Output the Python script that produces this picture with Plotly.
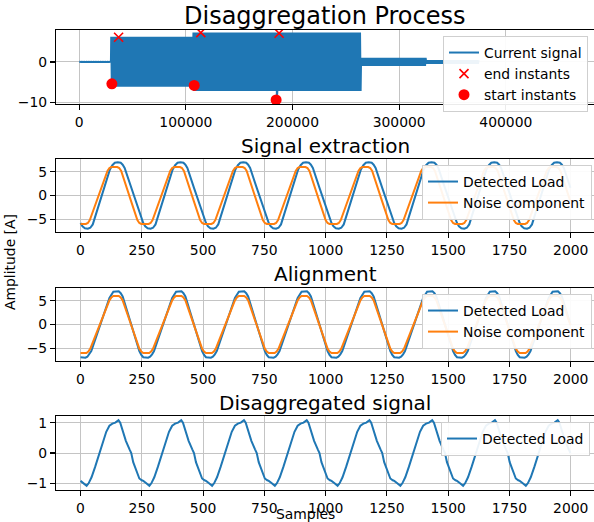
import plotly.graph_objects as go

# ---------------- data ----------------
# Top panel: envelope of the aggregated current signal, per segment
seg_start = [0, 30000, 107100, 264300, 325000]
seg_end = [30000, 107100, 264300, 325000, 375000]
seg_upper = [0.03, 6.25, 7.25, 1.0, 0.45]
seg_lower = [-0.03, -6.15, -7.2, -1.0, -0.45]
spike_x = 185300
spike_y = -9.4

end_x = [36900, 114000, 187400]
end_y = [6.1, 7.25, 7.1]
start_x = [30600, 107800, 184600]
start_y = [-5.4, -5.8, -9.4]

top_xticks = [0, 100000, 200000, 300000, 400000]
top_yticks = [-10, 0]

# Lower panels: waveform vertices, one cycle (offset within cycle, value)
cycle_starts = [0, 256, 512, 768, 1024, 1280, 1536, 1792]
n_samples_end = 1999

ext_load_dx = [0, 8, 18, 30, 40, 50, 120, 130, 140, 152, 164, 172, 180, 207, 248]
ext_load_y = [-5.8, -6.5, -6.9, -7.0, -6.8, -6.1, 5.5, 6.4, 6.9, 7.0, 6.9, 6.5, 5.8, 1.6, -4.6]
ext_noise_dx = [0, 22, 30, 38, 110, 118, 126, 150, 158, 166, 207, 232, 240, 248]
ext_noise_y = [-6.0, -6.0, -5.8, -5.2, 5.2, 5.8, 6.0, 6.0, 5.8, 5.2, -1.3, -5.2, -5.8, -6.0]

ali_load_dx = [0, 20, 28, 36, 44, 118, 126, 134, 156, 164, 172, 207, 240, 248]
ali_load_y = [-6.9, -7.0, -6.8, -6.3, -5.6, 5.6, 6.4, 6.9, 7.0, 6.6, 5.9, 0.0, -5.6, -6.4]
ali_noise_dx = [0, 24, 32, 40, 118, 126, 134, 156, 164, 172, 207, 240, 248, 254]
ali_noise_y = [-6.0, -6.0, -5.7, -5.1, 5.1, 5.7, 6.0, 6.0, 5.7, 5.1, -0.15, -5.1, -5.7, -6.0]

dis_load_dx = [0, 10, 25, 33, 45, 60, 75, 90, 105, 118, 130, 142, 155, 162, 172, 185, 200, 207, 215, 228, 240, 250]
dis_load_y = [-0.92, -0.98, -1.08, -1.0, -0.8, -0.45, -0.05, 0.35, 0.7, 0.9, 0.97, 1.0, 1.08, 1.0, 0.75, 0.4, 0.12, 0.0, -0.3, -0.62, -0.84, -0.9]

low_xticks = [0, 250, 500, 750, 1000, 1250, 1500, 1750, 2000]
amp_yticks = [-5, 0, 5]
dis_yticks = [-1, 0, 1]

BLUE = "#1f77b4"
ORANGE = "#ff7f0e"
FONT = "DejaVu Sans"


# ---------------- helpers ----------------
def envelope_line(starts, ends, up, lo, sx, sy, step=550):
    xs, ys = [], []
    spike_done = False
    for s, e, u, l in zip(starts, ends, up, lo):
        x = s
        k = 0
        while x <= e:
            if not spike_done and x >= sx:
                xs.append(sx)
                ys.append(sy)
                spike_done = True
            xs.append(x)
            ys.append(u if k % 2 == 0 else l)
            x += step
            k += 1
    return xs, ys


def cycles(dx, yv):
    xs, ys = [], []
    for c in cycle_starts:
        for d, v in zip(dx, yv):
            if c + d <= n_samples_end:
                xs.append(c + d)
                ys.append(v)
    return xs, ys


fig = go.Figure()

# ---- panel 1 ----
sx, sy = envelope_line(seg_start, seg_end, seg_upper, seg_lower, spike_x, spike_y)
fig.add_trace(go.Scatter(x=sx, y=sy, mode="lines", line=dict(color=BLUE, width=2),
                         name="Current signal", xaxis="x", yaxis="y", legend="legend"))
fig.add_trace(go.Scatter(x=end_x, y=end_y, mode="markers", name="end instants",
                         marker=dict(symbol="x-thin", size=9, color="red",
                                     line=dict(color="red", width=1.6)),
                         xaxis="x", yaxis="y", legend="legend"))
fig.add_trace(go.Scatter(x=start_x, y=start_y, mode="markers", name="start instants",
                         marker=dict(symbol="circle", size=11, color="red"),
                         xaxis="x", yaxis="y", legend="legend"))

# ---- panel 2 ----
x, y = cycles(ext_load_dx, ext_load_y)
fig.add_trace(go.Scatter(x=x, y=y, mode="lines", line=dict(color=BLUE, width=2),
                         name="Detected Load", xaxis="x2", yaxis="y2", legend="legend2"))
x, y = cycles(ext_noise_dx, ext_noise_y)
fig.add_trace(go.Scatter(x=x, y=y, mode="lines", line=dict(color=ORANGE, width=2),
                         name="Noise component", xaxis="x2", yaxis="y2", legend="legend2"))

# ---- panel 3 ----
x, y = cycles(ali_load_dx, ali_load_y)
fig.add_trace(go.Scatter(x=x, y=y, mode="lines", line=dict(color=BLUE, width=2),
                         name="Detected Load", xaxis="x3", yaxis="y3", legend="legend3"))
x, y = cycles(ali_noise_dx, ali_noise_y)
fig.add_trace(go.Scatter(x=x, y=y, mode="lines", line=dict(color=ORANGE, width=2),
                         name="Noise component", xaxis="x3", yaxis="y3", legend="legend3"))

# ---- panel 4 ----
x, y = cycles(dis_load_dx, dis_load_y)
fig.add_trace(go.Scatter(x=x, y=y, mode="lines", line=dict(color=BLUE, width=2),
                         name="Detected Load", xaxis="x4", yaxis="y4", legend="legend4"))

# ---------------- layout ----------------
W, H = 594, 522
ML, MR, MT, MB = 56, 0, 30, 32
PW = W - ML - MR
PH = H - MT - MB


def py(pix):  # pixel row -> paper y
    return (H - MB - pix) / PH


def px(pix):  # pixel column -> paper x
    return (pix - ML) / PW


axis_common = dict(showline=True, linecolor="black", linewidth=1.1, ticks="outside",
                   ticklen=5, tickwidth=1.1, tickcolor="black", showgrid=True,
                   gridcolor="#c4c4c4", gridwidth=1, zeroline=False, automargin=False,
                   tickfont=dict(family=FONT, size=13.9, color="black"))

doms = [(py(104), py(30)), (py(232), py(159)), (py(361), py(288)), (py(490), py(416))]

layout = dict(
    template="none",
    width=W, height=H, margin=dict(l=ML, r=MR, t=MT, b=MB, pad=0, autoexpand=False),
    paper_bgcolor="white", plot_bgcolor="white", showlegend=True,
    font=dict(family=FONT, size=13.9, color="black"),
    xaxis=dict(axis_common, anchor="y", domain=[0, 1], range=[-21800, 482700], mirror=True,
               tickmode="array", tickvals=top_xticks, ticktext=[str(v) for v in top_xticks]),
    yaxis=dict(axis_common, anchor="x", domain=list(doms[0]), range=[-10.4, 7.9],
               tickmode="array", tickvals=top_yticks),
)
for i, (rng, yt) in enumerate([([-7.7, 7.7], amp_yticks), ([-7.7, 7.7], amp_yticks),
                                ([-1.22, 1.22], dis_yticks)], start=2):
    layout[f"xaxis{i}"] = dict(axis_common, anchor=f"y{i}", domain=[0, 1], range=[-100, 2095],
                               mirror=True, tickmode="array", tickvals=low_xticks)
    layout[f"yaxis{i}"] = dict(axis_common, anchor=f"x{i}", domain=list(doms[i - 1]), range=rng,
                               tickmode="array", tickvals=yt)

leg_common = dict(bgcolor="rgba(255,255,255,0.92)", bordercolor="#cfcfcf", borderwidth=1,
                  font=dict(family=FONT, size=13.9, color="black"), xanchor="right",
                  yanchor="top", itemwidth=30, tracegroupgap=0)
layout["legend"] = dict(leg_common, x=px(588), y=py(36))
layout["legend2"] = dict(leg_common, x=px(592), y=py(165))
layout["legend3"] = dict(leg_common, x=px(592), y=py(294))
layout["legend4"] = dict(leg_common, x=px(590), y=py(422))

titles = [("Disaggregation Process", 15.5, 24), ("Signal extraction", 146, 20),
          ("Alignment", 274, 20), ("Disaggregated signal", 403, 20)]
ann = []
for t, ypix, fs in titles:
    ann.append(dict(text=t, xref="paper", yref="paper", x=0.5, y=py(ypix), xanchor="center",
                    yanchor="middle", showarrow=False, font=dict(family=FONT, size=fs, color="black")))
ann.append(dict(text="Samples", xref="paper", yref="paper", x=px(305), y=py(514), xanchor="center",
                yanchor="middle", showarrow=False, borderpad=0,
                font=dict(family=FONT, size=13.9, color="black")))
ann.append(dict(text="Amplitude [A]", xref="paper", yref="paper", x=px(10), y=py(262),
                xanchor="center", yanchor="middle", textangle=-90, showarrow=False,
                font=dict(family=FONT, size=13.9, color="black")))
layout["annotations"] = ann

fig.update_layout(layout)
fig.write_html("out.html", config={"displayModeBar": False, "staticPlot": True},
               post_script="document.body.style.margin='0';document.body.style.overflow='hidden';")
